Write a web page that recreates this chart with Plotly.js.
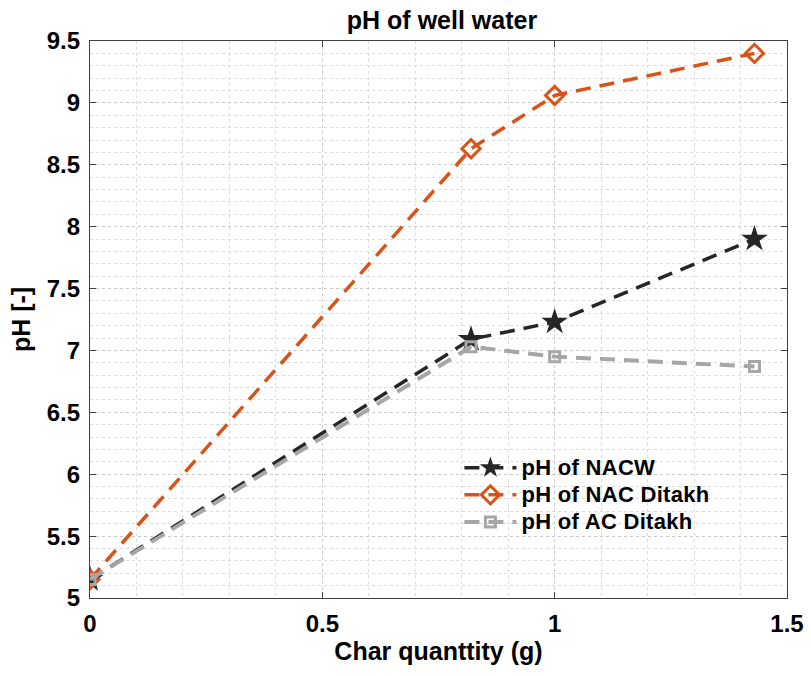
<!DOCTYPE html>
<html><head><meta charset="utf-8">
<script src="https://cdn.plot.ly/plotly-3.0.1.min.js"></script>
<style>body{margin:0;background:#fff}#c{width:811px;height:676px}
#c .legendtext{font-size:22px !important;letter-spacing:0.3px}
#c .legend .scrollbox{clip-path:none !important}</style>
</head><body><div id="c"></div>
<script>
const charQty = [0, 0.82, 1.0, 1.43];
const phNACW = [5.15, 7.09, 7.23, 7.9];
const phNACDitakh = [5.15, 8.63, 9.06, 9.4];
const phACDitakh = [5.15, 7.03, 6.95, 6.87];
const names = ['pH of NACW', 'pH of NAC Ditakh', 'pH of AC Ditakh'];
const xTicks = [0, 0.5, 1, 1.5];
const yTicks = [5, 5.5, 6, 6.5, 7, 7.5, 8, 8.5, 9, 9.5];

const traces = [
  {x: charQty, y: phNACW, name: names[0], mode: 'lines+markers',
   line: {color: '#262626', width: 3.5, dash: '15px,9px'},
   marker: {symbol: 'star', size: 20, color: '#262626'}},
  {x: charQty, y: phNACDitakh, name: names[1], mode: 'lines+markers',
   line: {color: '#D95319', width: 3.5, dash: '15px,9px'},
   marker: {symbol: 'diamond-open', size: 14, color: '#D95319', line: {width: 3}}},
  {x: charQty, y: phACDitakh, name: names[2], mode: 'lines+markers',
   line: {color: '#A6A6A6', width: 4, dash: '15px,9px'},
   marker: {symbol: 'square-open', size: 10, color: '#A6A6A6', line: {width: 3}}}
];
const font = {family: 'Liberation Sans, Arial, sans-serif', color: '#000'};
const axisCommon = {
  showline: true, linecolor: '#404040', linewidth: 1.2, mirror: 'ticks',
  ticks: 'inside', ticklen: 6, tickcolor: '#404040',
  showgrid: true, gridcolor: '#c8c8c8', griddash: 'dot', gridwidth: 1,
  zeroline: false, ticklabelstandoff: 4,
  tickfont: {family: font.family, size: 24, color: '#000', weight: 'bold'}
};
const layout = {
  width: 811, height: 676,
  margin: {l: 90, r: 24, t: 41, b: 78},
  paper_bgcolor: '#fff', plot_bgcolor: '#fff',
  font: font,
  title: {text: '<b>pH of well water</b>', x: 0.545, xanchor: 'center', y: 0.97, yanchor: 'middle',
          font: {family: font.family, size: 25, color: '#000'}},
  xaxis: Object.assign({}, axisCommon, {
    range: [0, 1.5], tickvals: xTicks, ticktext: xTicks.map(String),
    minor: {dtick: 0.1, showgrid: true, gridcolor: '#dcdcdc', griddash: 'dot', gridwidth: 1, ticks: ''},
    title: {text: '<b>Char quanttity (g)</b>', font: {family: font.family, size: 25, color: '#000'}, standoff: 4}
  }),
  yaxis: Object.assign({}, axisCommon, {
    range: [5, 9.5], tickvals: yTicks, ticktext: yTicks.map(String),
    minor: {dtick: 0.1, showgrid: true, gridcolor: '#dcdcdc', griddash: 'dot', gridwidth: 1, ticks: ''},
    title: {text: '<b>pH [-]</b>', font: {family: font.family, size: 25, color: '#000'}, standoff: 8}
  }),
  legend: {x: 0.53, y: 0.267, xanchor: 'left', yanchor: 'top', bgcolor: 'rgba(0,0,0,0)',
           font: {family: font.family, size: 18.5, color: '#000', weight: 'bold'},
           tracegroupgap: 0, itemwidth: 52},
  showlegend: true
};
Plotly.newPlot('c', traces, layout, {displayModeBar: false, staticPlot: true});
</script></body></html>
